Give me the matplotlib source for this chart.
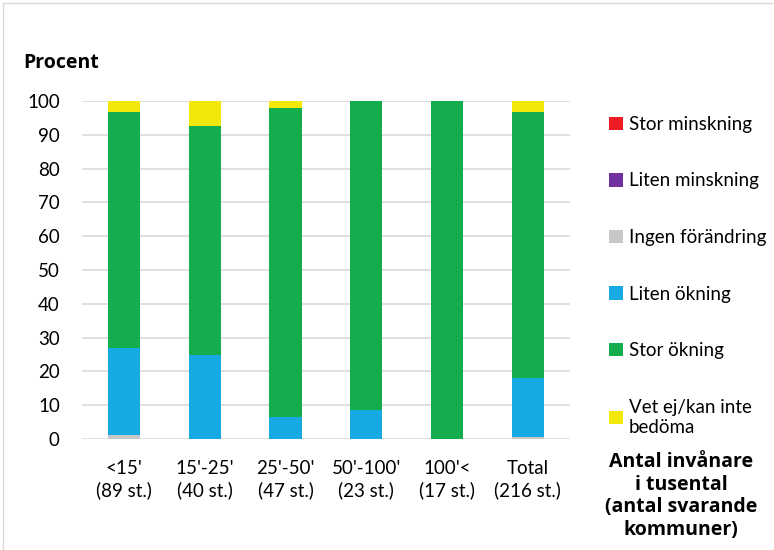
import matplotlib.pyplot as plt
import numpy as np
from matplotlib.patches import Rectangle

plt.rcParams['font.family'] = ['Lato', 'DejaVu Sans']

categories = ["<15'\n(89 st.)", "15'-25'\n(40 st.)", "25'-50'\n(47 st.)",
              "50'-100'\n(23 st.)", "100'<\n(17 st.)", "Total\n(216 st.)"]

# andel i procent per svarsalternativ
stor_minskning = [0, 0, 0, 0, 0, 0]
liten_minskning = [0, 0, 0, 0, 0, 0]
ingen_forandring = [1.1, 0, 0, 0, 0, 0.5]
liten_okning = [25.8, 25.0, 6.4, 8.7, 0, 17.6]
stor_okning = [69.7, 67.5, 91.5, 91.3, 100, 78.7]
vet_ej = [3.4, 7.5, 2.1, 0, 0, 3.2]

series = [
    ("Stor minskning", stor_minskning, "#ed1c24"),
    ("Liten minskning", liten_minskning, "#7030a0"),
    ("Ingen förändring", ingen_forandring, "#c8c8c8"),
    ("Liten ökning", liten_okning, "#17a9e1"),
    ("Stor ökning", stor_okning, "#14ad4d"),
    ("Vet ej/kan inte\nbedöma", vet_ej, "#f3e80c"),
]

fig = plt.figure(figsize=(7.74, 5.5), dpi=100)
ax = fig.add_axes([0.106, 0.2018, 0.630, 0.6146])

x = np.arange(len(categories))
bottom = np.zeros(len(categories))
for name, vals, col in series:
    ax.bar(x, vals, bottom=bottom, width=0.4, color=col, label=name, zorder=3)
    bottom += np.array(vals)

ax.set_ylim(0, 100)
ax.set_xlim(-0.52, 5.52)
ax.set_yticks(range(0, 101, 10))
ax.set_xticks(x)
ax.set_xticklabels(categories, fontsize=13.5, linespacing=1.3)
ax.tick_params(axis='y', labelsize=13.5, length=0, pad=16)
ax.tick_params(axis='x', length=0, pad=15)
ax.yaxis.grid(True, color='#d9d9d9', linewidth=1.2, zorder=0)
for s in ax.spines.values():
    s.set_visible(False)

fig.text(0.030, 0.876, "Procent", fontsize=14, fontweight='bold', family='Open Sans')
fig.text(0.880, 0.178, "Antal invånare\ni tusental\n(antal svarande\nkommuner)",
         fontsize=14, fontweight='bold', family='Open Sans',
         ha='center', va='top', linespacing=1.17)

handles, labels = ax.get_legend_handles_labels()
ax.legend(handles, labels, loc='upper left', bbox_to_anchor=(1.066, 0.978),
          frameon=False, fontsize=13.5, handlelength=0.75, handleheight=0.75,
          handletextpad=0.3, labelspacing=2.11, borderaxespad=0)

# ram runt diagrammet
fig.patches.append(Rectangle((0.004, -0.1), 1.2, 1.095, transform=fig.transFigure,
                             fill=False, edgecolor='#d9d9d9', linewidth=1))

fig.savefig("out.png", dpi=100)
